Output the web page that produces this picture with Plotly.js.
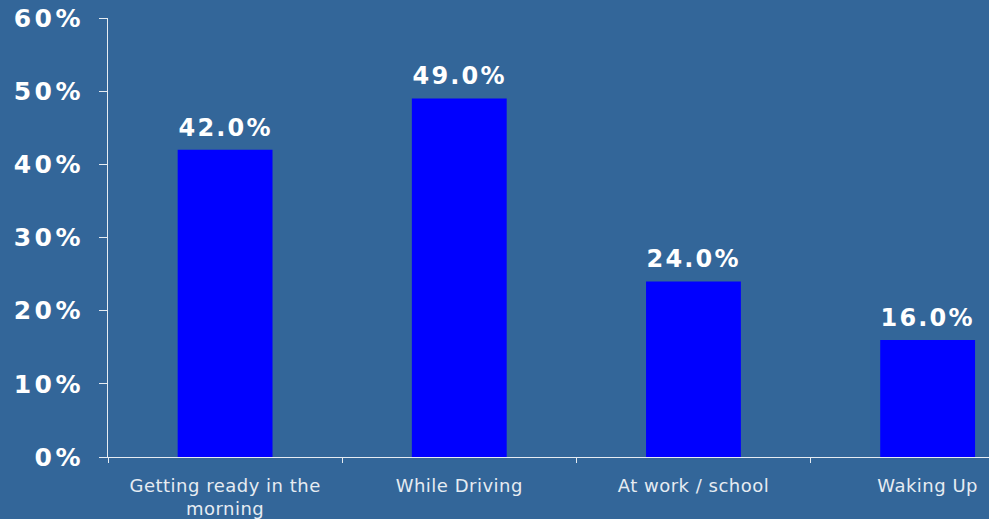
<!DOCTYPE html>
<html>
<head>
<meta charset="utf-8">
<script src="https://cdn.plot.ly/plotly-3.0.1.min.js"></script>
<style>
html,body{margin:0;padding:0;background:#336699;overflow:hidden;}
#chart{width:989px;height:519px;}
#chart .xtick text{letter-spacing:0.5px;}
#chart .ytick text{letter-spacing:3.5px;}
#chart .annotation-text{letter-spacing:2.2px;}
</style>
</head>
<body>
<div id="chart"></div>
<script>
const categories = ["Getting ready in the<br>morning", "While Driving", "At work / school", "Waking Up"];
const values = [42.0, 49.0, 24.0, 16.0];
const yTickValues = [0, 10, 20, 30, 40, 50, 60];
const yTickLabels = ["0%", "10%", "20%", "30%", "40%", "50%", "60%"];

const trace = {
  type: "bar",
  x: categories,
  y: values,
  marker: {color: "#0000ff", line: {width: 0}},
  width: 0.405,
  hoverinfo: "none"
};

const annotations = categories.map((c, i) => ({
  x: c, y: values[i], xref: "x", yref: "y",
  text: values[i].toFixed(1) + "%",
  showarrow: false, yanchor: "bottom", xanchor: "center", yshift: 6,
  font: {family: "DejaVu Sans", size: 24, color: "#ffffff", weight: "bold"}
}));

const layout = {
  width: 989, height: 519,
  paper_bgcolor: "#336699",
  plot_bgcolor: "#336699",
  margin: {l: 108, r: 0, t: 18, b: 62},
  showlegend: false,
  annotations: annotations,
  xaxis: {
    type: "category",
    range: [-0.5, 3.262],
    showline: true, linecolor: "#e6ecf2", linewidth: 1,
    ticks: "outside", ticklen: 5, tickcolor: "#e6ecf2", tickson: "boundaries",
    showgrid: false, zeroline: false,
    tickfont: {family: "DejaVu Sans", size: 18, color: "#e6ecf2"},
    ticklabelstandoff: 12
  },
  yaxis: {
    range: [0, 60],
    tickvals: yTickValues, ticktext: yTickLabels,
    showline: true, linecolor: "#e6ecf2", linewidth: 1,
    ticks: "outside", ticklen: 8, tickcolor: "#e6ecf2",
    showgrid: false, zeroline: false,
    tickfont: {family: "DejaVu Sans", size: 25, color: "#ffffff", weight: "bold"},
    ticklabelstandoff: 10
  }
};

Plotly.newPlot("chart", [trace], layout, {displayModeBar: false, staticPlot: true});
</script>
</body>
</html>
